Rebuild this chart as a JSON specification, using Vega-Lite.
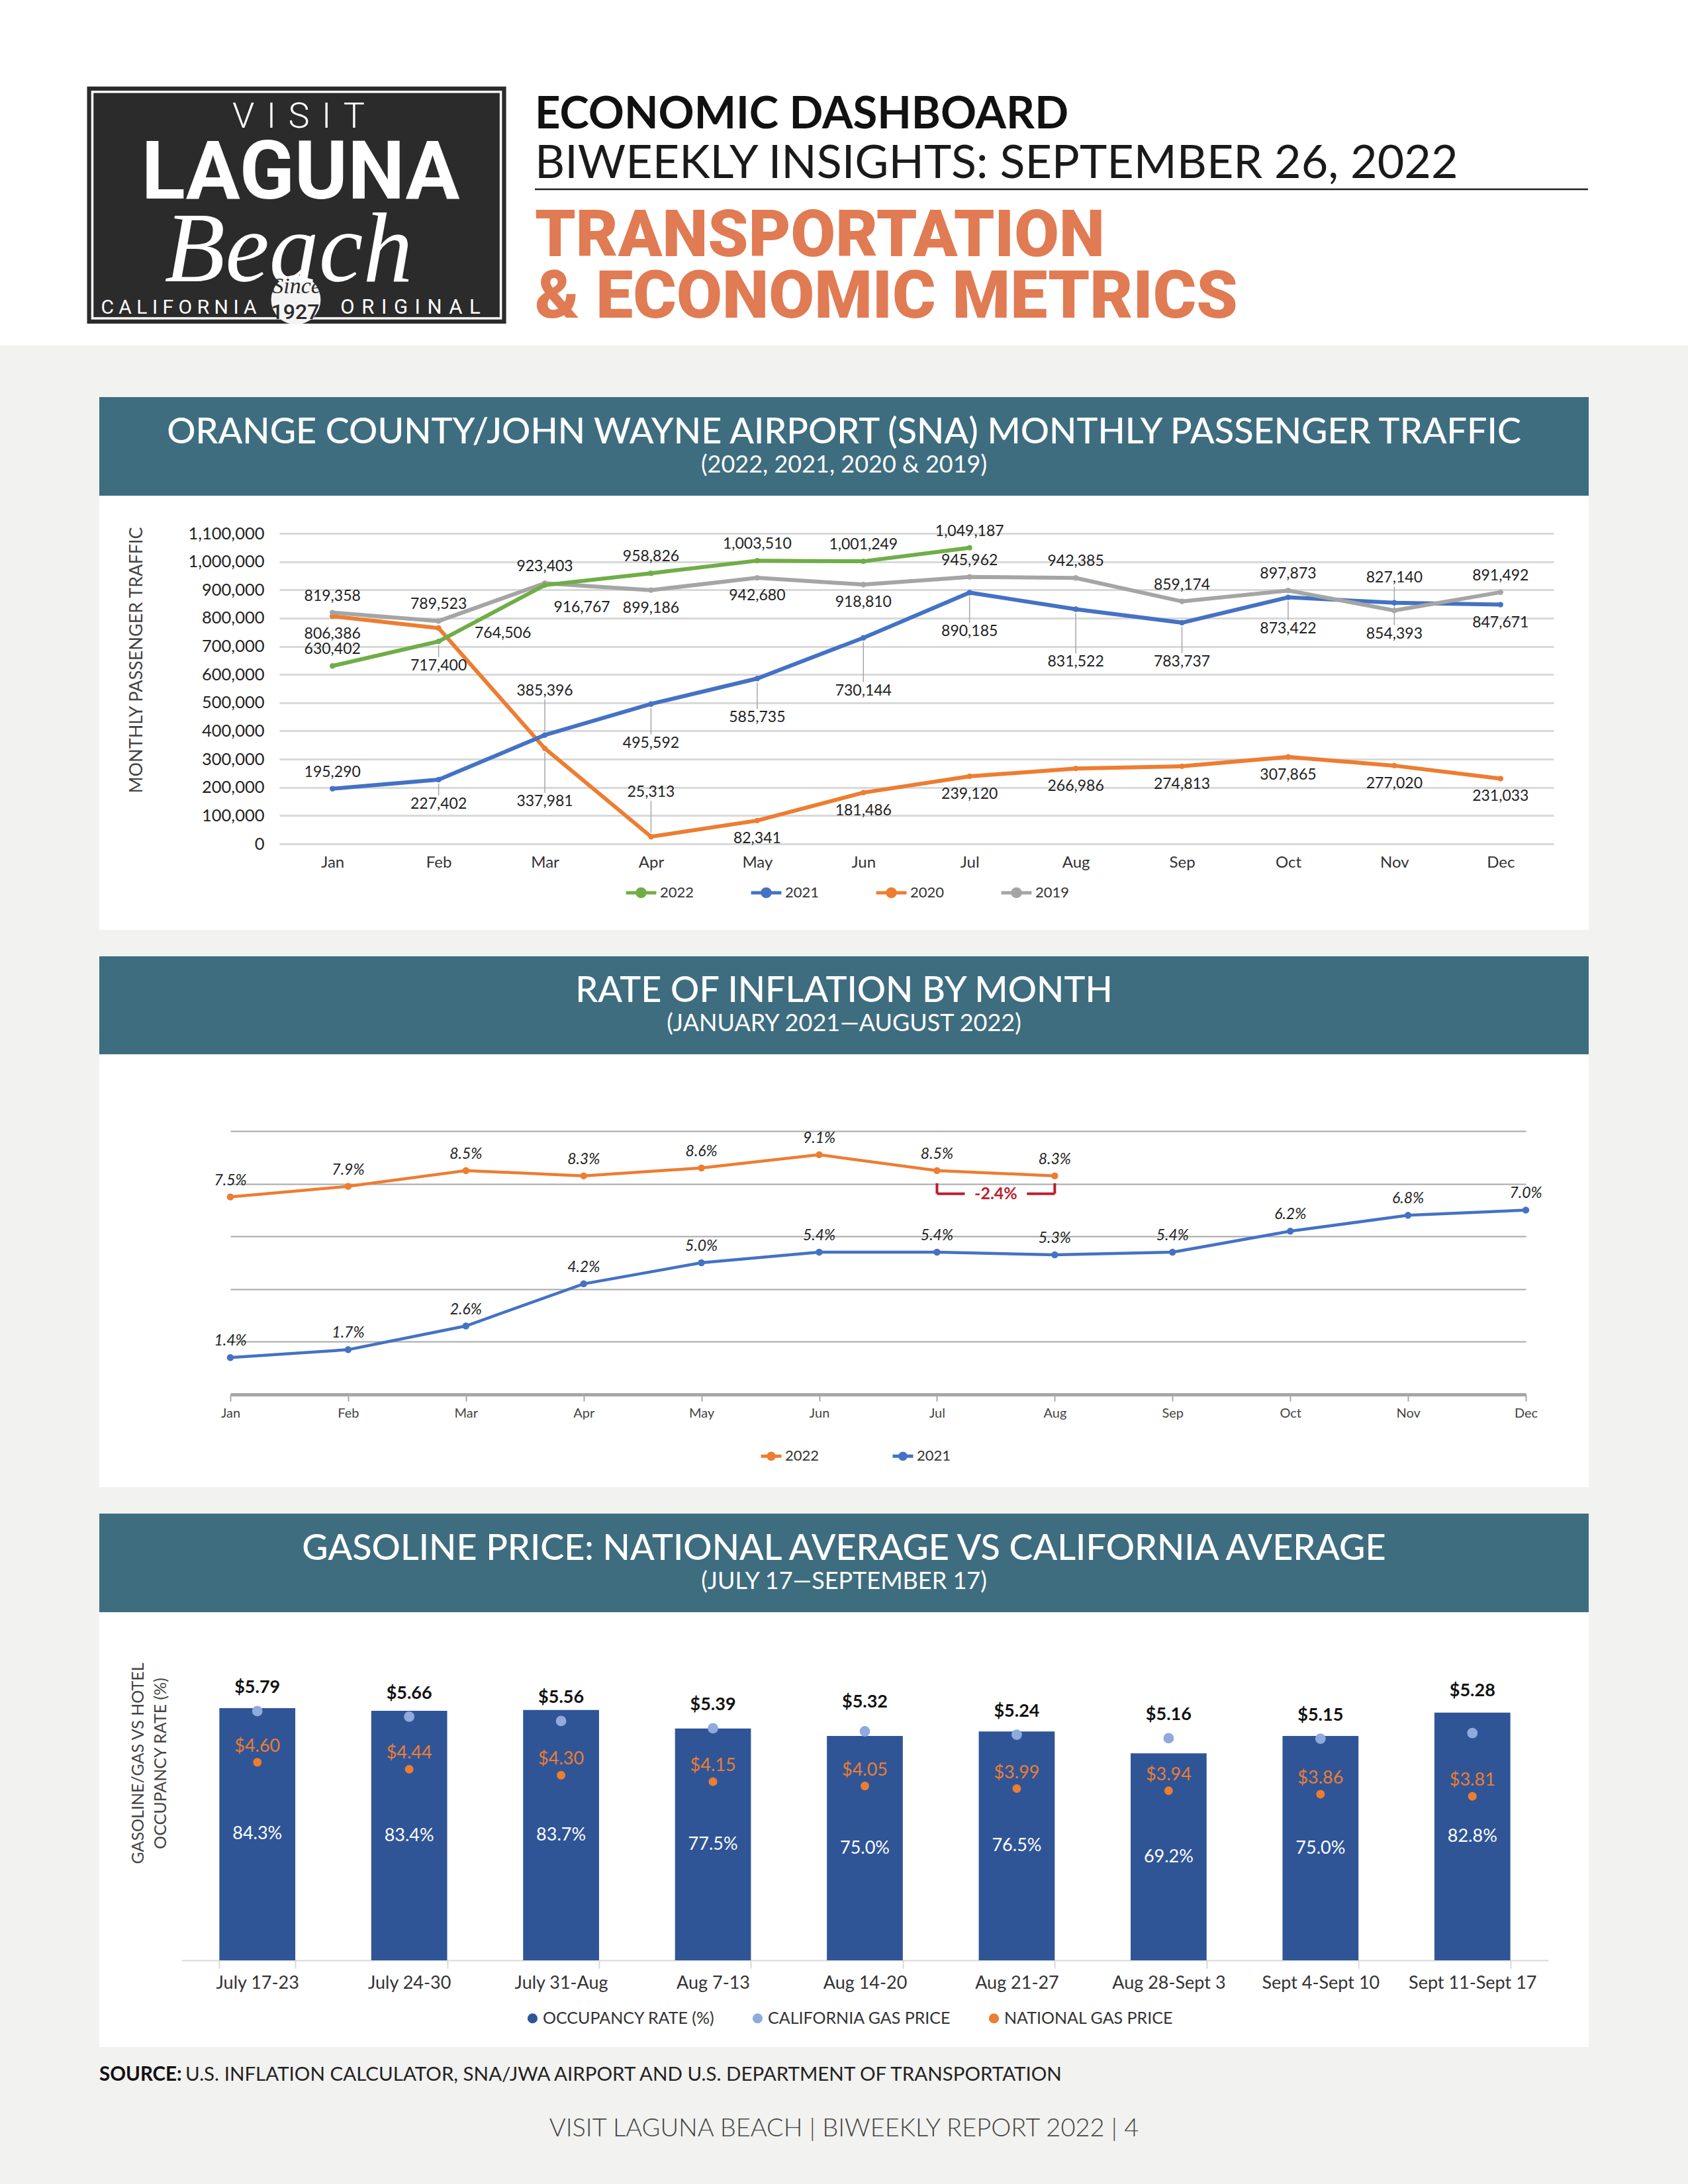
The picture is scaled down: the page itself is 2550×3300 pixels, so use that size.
{
  "$schema": "https://vega.github.io/schema/vega-lite/v6.json",
  "background": "#f2f2f0",
  "padding": 0,
  "spacing": 0,
  "center": true,
  "bounds": "flush",
  "config": {
    "view": {"stroke": null},
    "font": "Lato",
    "axis": {"labelFont": "Lato", "titleFont": "Lato"},
    "legend": {"labelFont": "Lato", "titleFont": "Lato"}
  },
  "resolve": {"scale": {"color": "independent"}, "legend": {"color": "independent"}},
  "datasets": {
    "passengers": [
      {"series": "2020", "month": "Jan", "value": 806386},
      {"series": "2020", "month": "Feb", "value": 764506},
      {"series": "2020", "month": "Mar", "value": 337981},
      {"series": "2020", "month": "Apr", "value": 25313},
      {"series": "2020", "month": "May", "value": 82341},
      {"series": "2020", "month": "Jun", "value": 181486},
      {"series": "2020", "month": "Jul", "value": 239120},
      {"series": "2020", "month": "Aug", "value": 266986},
      {"series": "2020", "month": "Sep", "value": 274813},
      {"series": "2020", "month": "Oct", "value": 307865},
      {"series": "2020", "month": "Nov", "value": 277020},
      {"series": "2020", "month": "Dec", "value": 231033},
      {"series": "2021", "month": "Jan", "value": 195290},
      {"series": "2021", "month": "Feb", "value": 227402},
      {"series": "2021", "month": "Mar", "value": 385396},
      {"series": "2021", "month": "Apr", "value": 495592},
      {"series": "2021", "month": "May", "value": 585735},
      {"series": "2021", "month": "Jun", "value": 730144},
      {"series": "2021", "month": "Jul", "value": 890185},
      {"series": "2021", "month": "Aug", "value": 831522},
      {"series": "2021", "month": "Sep", "value": 783737},
      {"series": "2021", "month": "Oct", "value": 873422},
      {"series": "2021", "month": "Nov", "value": 854393},
      {"series": "2021", "month": "Dec", "value": 847671},
      {"series": "2019", "month": "Jan", "value": 819358},
      {"series": "2019", "month": "Feb", "value": 789523},
      {"series": "2019", "month": "Mar", "value": 923403},
      {"series": "2019", "month": "Apr", "value": 899186},
      {"series": "2019", "month": "May", "value": 942680},
      {"series": "2019", "month": "Jun", "value": 918810},
      {"series": "2019", "month": "Jul", "value": 945962},
      {"series": "2019", "month": "Aug", "value": 942385},
      {"series": "2019", "month": "Sep", "value": 859174},
      {"series": "2019", "month": "Oct", "value": 897873},
      {"series": "2019", "month": "Nov", "value": 827140},
      {"series": "2019", "month": "Dec", "value": 891492},
      {"series": "2022", "month": "Jan", "value": 630402},
      {"series": "2022", "month": "Feb", "value": 717400},
      {"series": "2022", "month": "Mar", "value": 916767},
      {"series": "2022", "month": "Apr", "value": 958826},
      {"series": "2022", "month": "May", "value": 1003510},
      {"series": "2022", "month": "Jun", "value": 1001249},
      {"series": "2022", "month": "Jul", "value": 1049187}
    ],
    "inflation": [
      {"series": "2021", "month": "Jan", "rate": 0.014},
      {"series": "2021", "month": "Feb", "rate": 0.017},
      {"series": "2021", "month": "Mar", "rate": 0.026},
      {"series": "2021", "month": "Apr", "rate": 0.042},
      {"series": "2021", "month": "May", "rate": 0.050},
      {"series": "2021", "month": "Jun", "rate": 0.054},
      {"series": "2021", "month": "Jul", "rate": 0.054},
      {"series": "2021", "month": "Aug", "rate": 0.053},
      {"series": "2021", "month": "Sep", "rate": 0.054},
      {"series": "2021", "month": "Oct", "rate": 0.062},
      {"series": "2021", "month": "Nov", "rate": 0.068},
      {"series": "2021", "month": "Dec", "rate": 0.070},
      {"series": "2022", "month": "Jan", "rate": 0.075},
      {"series": "2022", "month": "Feb", "rate": 0.079},
      {"series": "2022", "month": "Mar", "rate": 0.085},
      {"series": "2022", "month": "Apr", "rate": 0.083},
      {"series": "2022", "month": "May", "rate": 0.086},
      {"series": "2022", "month": "Jun", "rate": 0.091},
      {"series": "2022", "month": "Jul", "rate": 0.085},
      {"series": "2022", "month": "Aug", "rate": 0.083}
    ],
    "inflationChange": [
      {"from": "Jul", "to": "Aug", "change": "-2.4%"}
    ],
    "gas": [
      {"week": "July 17-23", "occupancy": 0.843, "ca": 5.79, "national": 4.60},
      {"week": "July 24-30", "occupancy": 0.834, "ca": 5.66, "national": 4.44},
      {"week": "July 31-Aug", "occupancy": 0.837, "ca": 5.56, "national": 4.30},
      {"week": "Aug 7-13", "occupancy": 0.775, "ca": 5.39, "national": 4.15},
      {"week": "Aug 14-20", "occupancy": 0.750, "ca": 5.32, "national": 4.05},
      {"week": "Aug 21-27", "occupancy": 0.765, "ca": 5.24, "national": 3.99},
      {"week": "Aug 28-Sept 3", "occupancy": 0.692, "ca": 5.16, "national": 3.94},
      {"week": "Sept 4-Sept 10", "occupancy": 0.750, "ca": 5.15, "national": 3.86},
      {"week": "Sept 11-Sept 17", "occupancy": 0.828, "ca": 5.28, "national": 3.81}
    ]
  },
  "vconcat": [
    {
      "width": 2550,
      "height": 522,
      "view": {"fill": "white", "stroke": null},
      "data": {"values": [{}]},
      "layer": [
        {
          "mark": {"type": "rect", "fill": "#2b2b2b", "stroke": "#2b2b2b", "strokeWidth": 16},
          "encoding": {
            "x": {"datum": 0.05471, "type": "quantitative", "scale": {"domain": [0, 1]}, "axis": null},
            "x2": {"datum": 0.29671},
            "y": {"datum": 0.26571, "type": "quantitative", "scale": {"domain": [0, 1], "reverse": true}, "axis": null},
            "y2": {"datum": 0.92146}
          }
        },
        {
          "mark": {"type": "rect", "fill": "transparent", "stroke": "white", "strokeWidth": 3.5},
          "encoding": {
            "x": {"datum": 0.05471, "type": "quantitative", "axis": null},
            "x2": {"datum": 0.29671},
            "y": {"datum": 0.26571, "type": "quantitative", "axis": null},
            "y2": {"datum": 0.92146}
          }
        },
        {
          "mark": {"type": "point", "filled": true, "fill": "#f4f4f4", "opacity": 1, "size": 5600, "strokeWidth": 0},
          "encoding": {
            "x": {"datum": 0.17529, "type": "quantitative", "axis": null},
            "y": {"datum": 0.86782, "type": "quantitative", "axis": null}
          }
        },
        {
          "mark": {"type": "text", "font": "Roboto", "fontWeight": 300, "fontSize": 54, "color": "white", "baseline": "alphabetic"},
          "encoding": {
            "x": {"datum": 0.17686, "type": "quantitative", "axis": null},
            "y": {"datum": 0.36992, "type": "quantitative", "axis": null},
            "text": {"value": "V\u2004I\u2004S\u2004I\u2004T"}
          }
        },
        {
          "mark": {"type": "text", "font": "Roboto", "fontWeight": 700, "fontSize": 122, "color": "white", "baseline": "alphabetic"},
          "encoding": {
            "x": {"datum": 0.17804, "type": "quantitative", "axis": null},
            "y": {"datum": 0.57471, "type": "quantitative", "axis": null},
            "text": {"value": "LAGUNA"}
          }
        },
        {
          "mark": {"type": "text", "font": "Liberation Serif", "fontStyle": "italic", "fontSize": 150, "color": "white", "baseline": "alphabetic"},
          "encoding": {
            "x": {"datum": 0.17098, "type": "quantitative", "axis": null},
            "y": {"datum": 0.81418, "type": "quantitative", "axis": null},
            "text": {"value": "Beach"}
          }
        },
        {
          "mark": {"type": "text", "font": "Roboto", "fontWeight": 400, "fontSize": 30, "color": "white", "baseline": "alphabetic"},
          "encoding": {
            "x": {"datum": 0.10588, "type": "quantitative", "axis": null},
            "y": {"datum": 0.90805, "type": "quantitative", "axis": null},
            "text": {"value": "C A L I F O R N I A"}
          }
        },
        {
          "mark": {"type": "text", "font": "Roboto", "fontWeight": 400, "fontSize": 31, "color": "white", "baseline": "alphabetic"},
          "encoding": {
            "x": {"datum": 0.24314, "type": "quantitative", "axis": null},
            "y": {"datum": 0.90805, "type": "quantitative", "axis": null},
            "text": {"value": "O\u2004R\u2004I\u2004G\u2004I\u2004N\u2004A\u2004L"}
          }
        },
        {
          "mark": {"type": "text", "font": "Liberation Serif", "fontStyle": "italic", "fontSize": 34, "color": "#2b2b2b", "baseline": "middle"},
          "encoding": {
            "x": {"datum": 0.17569, "type": "quantitative", "axis": null},
            "y": {"datum": 0.8295, "type": "quantitative", "axis": null},
            "text": {"value": "Since"}
          }
        },
        {
          "mark": {"type": "text", "font": "Roboto", "fontWeight": 500, "fontSize": 32, "color": "#2b2b2b", "baseline": "alphabetic"},
          "encoding": {
            "x": {"datum": 0.17490, "type": "quantitative", "axis": null},
            "y": {"datum": 0.92337, "type": "quantitative", "axis": null},
            "text": {"value": "1927"}
          }
        },
        {
          "mark": {"type": "text", "fontWeight": 700, "fontSize": 67, "color": "#111111", "align": "left", "baseline": "alphabetic"},
          "encoding": {
            "x": {"datum": 0.31686, "type": "quantitative", "axis": null},
            "y": {"datum": 0.37165, "type": "quantitative", "axis": null},
            "text": {"value": "ECONOMIC DASHBOARD"}
          }
        },
        {
          "mark": {"type": "text", "fontWeight": 400, "fontSize": 70, "color": "#1a1a1a", "align": "left", "baseline": "alphabetic"},
          "encoding": {
            "x": {"datum": 0.31686, "type": "quantitative", "axis": null},
            "y": {"datum": 0.51533, "type": "quantitative", "axis": null},
            "text": {"value": "BIWEEKLY INSIGHTS: SEPTEMBER 26, 2022"}
          }
        },
        {
          "mark": {"type": "rule", "color": "#222222", "strokeWidth": 2.5},
          "encoding": {
            "x": {"datum": 0.31686, "type": "quantitative", "axis": null},
            "x2": {"datum": 0.94078},
            "y": {"datum": 0.54789, "type": "quantitative", "axis": null}
          }
        },
        {
          "mark": {"type": "text", "font": "Roboto", "fontWeight": 900, "fontSize": 98, "color": "#e07b53", "align": "left", "baseline": "alphabetic"},
          "encoding": {
            "x": {"datum": 0.31686, "type": "quantitative", "axis": null},
            "y": {"datum": 0.74138, "type": "quantitative", "axis": null},
            "text": {"value": "TRANSPORTATION"}
          }
        },
        {
          "mark": {"type": "text", "font": "Roboto", "fontWeight": 900, "fontSize": 100, "color": "#e07b53", "align": "left", "baseline": "alphabetic"},
          "encoding": {
            "x": {"datum": 0.31686, "type": "quantitative", "axis": null},
            "y": {"datum": 0.91954, "type": "quantitative", "axis": null},
            "text": {"value": "& ECONOMIC METRICS"}
          }
        }
      ]
    },
    {
      "width": 2250,
      "height": 78,
      "data": {"values": [{}]},
      "mark": {"type": "point", "opacity": 0},
      "encoding": {}
    },
    {
      "width": 2250,
      "height": 149,
      "view": {"fill": "#3e6d80", "stroke": null},
      "data": {"values": [{"title": "ORANGE COUNTY/JOHN WAYNE AIRPORT (SNA) MONTHLY PASSENGER TRAFFIC", "subtitle": "(2022, 2021, 2020 & 2019)"}]},
      "layer": [
        {"mark": {"type": "text", "color": "white", "fontSize": 54, "fontWeight": 500, "baseline": "middle", "dy": -21}, "encoding": {"text": {"field": "title"}}},
        {"mark": {"type": "text", "color": "white", "fontSize": 36, "fontWeight": 400, "baseline": "middle", "dy": 28}, "encoding": {"text": {"field": "subtitle"}}}
      ]
    },
    {
      "width": 2250,
      "height": 656,
      "view": {"fill": "white", "stroke": null},
      "data": {"name": "passengers"},
      "encoding": {
        "x": {
          "field": "month", "type": "ordinal",
          "sort": ["Jan","Feb","Mar","Apr","May","Jun","Jul","Aug","Sep","Oct","Nov","Dec"],
          "scale": {"type": "point", "domain": ["Jan","Feb","Mar","Apr","May","Jun","Jul","Aug","Sep","Oct","Nov","Dec"], "range": [272, 2197], "padding": 0.5},
          "axis": {"orient": "bottom", "offset": -130, "title": null, "labelAngle": 0, "labelFontSize": 24, "labelColor": "#333333", "labelPadding": 16, "domain": false, "ticks": false, "grid": false}
        },
        "y": {
          "field": "value", "type": "quantitative",
          "scale": {"domain": [0, 1100000], "range": [526, 57], "nice": false},
          "axis": {
            "orient": "left", "offset": -262,
            "values": [0, 100000, 200000, 300000, 400000, 500000, 600000, 700000, 800000, 900000, 1000000, 1100000],
            "labelExpr": "format(datum.value, ',')",
            "labelFontSize": 25.5, "labelColor": "#222222", "labelPadding": 13,
            "ticks": false, "tickSize": 0, "domain": false,
            "grid": true, "gridColor": "#d9d9d9", "gridWidth": 3,
            "title": "MONTHLY PASSENGER TRAFFIC", "titleFontSize": 27, "titleFontWeight": 400, "titleColor": "#444444",
            "titleX": -206, "titleY": 248, "titleAngle": -90, "titleBaseline": "middle", "titleAlign": "center"
          }
        }
      },
      "layer": [
        {
          "transform": [{"filter": "(datum.series=='2021' && indexof(['Apr','May','Jul','Sep'], datum.month)>=0)"}],
          "mark": {"type": "rule", "color": "#a6a6a6", "strokeWidth": 1.5, "yOffset": 6, "y2Offset": 46},
          "encoding": {"y2": {"field": "value"}}
        },
        {
          "transform": [{"filter": "(datum.series=='2021' && indexof(['Oct','Nov'], datum.month)>=0)"}],
          "mark": {"type": "rule", "color": "#a6a6a6", "strokeWidth": 1.5, "yOffset": 6, "y2Offset": 34},
          "encoding": {"y2": {"field": "value"}}
        },
        {
          "transform": [{"filter": "(datum.series=='2021' && indexof(['Jun','Aug'], datum.month)>=0) || (datum.series=='2020' && datum.month=='Mar')"}],
          "mark": {"type": "rule", "color": "#a6a6a6", "strokeWidth": 1.5, "yOffset": 6, "y2Offset": 67},
          "encoding": {"y2": {"field": "value"}}
        },
        {
          "transform": [{"filter": "(datum.series=='2021' || datum.series=='2022') && datum.month=='Feb'"}],
          "mark": {"type": "rule", "color": "#a6a6a6", "strokeWidth": 1.5, "yOffset": 6, "y2Offset": 24},
          "encoding": {"y2": {"field": "value"}}
        },
        {
          "transform": [{"filter": "datum.series=='2019' && datum.month=='Nov'"}],
          "mark": {"type": "rule", "color": "#a6a6a6", "strokeWidth": 1.5, "yOffset": -6, "y2Offset": -36},
          "encoding": {"y2": {"field": "value"}}
        },
        {
          "transform": [{"filter": "(datum.series=='2021' && datum.month=='Mar') || (datum.series=='2020' && datum.month=='Apr')"}],
          "mark": {"type": "rule", "color": "#a6a6a6", "strokeWidth": 1.5, "yOffset": -6, "y2Offset": -54},
          "encoding": {"y2": {"field": "value"}}
        },
        {
          "mark": {"type": "line", "strokeWidth": 6},
          "encoding": {
            "color": {
              "field": "series", "type": "nominal",
              "scale": {"domain": ["2022", "2021", "2020", "2019"], "range": ["#70ad47", "#4472c4", "#ed7d31", "#a5a5a5"]},
              "legend": {
                "orient": "none", "legendX": 793, "legendY": 574, "direction": "horizontal", "title": null,
                "labelFontSize": 22, "labelColor": "#333333", "labelOffset": 3,
                "symbolType": "M-1,0L1,0M-0.25,0A0.25,0.25,0,1,1,0.25,0A0.25,0.25,0,1,1,-0.25,0Z",
                "symbolSize": 2100, "symbolStrokeWidth": 5, "columnPadding": 75
              }
            }
          }
        },
        {
          "mark": {"type": "point", "filled": true, "size": 70, "opacity": 1},
          "encoding": {"color": {"field": "series", "type": "nominal"}}
        },
        {
          "transform": [{"filter": "(datum.series=='2019' && indexof(['Jan','Feb','Mar','Jul','Aug','Sep','Oct','Dec'], datum.month)>=0) || (datum.series=='2022' && indexof(['Jan','Apr','May','Jun','Jul'], datum.month)>=0) || (datum.series=='2021' && datum.month=='Jan')"}],
          "mark": {"type": "text", "dy": -25, "fontSize": 23, "color": "#222222", "baseline": "middle"},
          "encoding": {"text": {"field": "value", "type": "quantitative", "format": ","}}
        },
        {
          "transform": [{"filter": "(datum.series=='2019' && indexof(['Apr','May','Jun'], datum.month)>=0) || (datum.series=='2021' && datum.month=='Dec') || (datum.series=='2020' && indexof(['Jan','May','Jun','Jul','Aug','Sep','Oct','Nov','Dec'], datum.month)>=0)"}],
          "mark": {"type": "text", "dy": 27, "fontSize": 23, "color": "#222222", "baseline": "middle"},
          "encoding": {"text": {"field": "value", "type": "quantitative", "format": ","}}
        },
        {
          "transform": [{"filter": "(datum.series=='2021' || datum.series=='2022') && datum.month=='Feb'"}],
          "mark": {"type": "text", "dy": 37, "fontSize": 23, "color": "#222222", "baseline": "middle"},
          "encoding": {"text": {"field": "value", "type": "quantitative", "format": ","}}
        },
        {
          "transform": [{"filter": "datum.series=='2022' && datum.month=='Mar'"}],
          "mark": {"type": "text", "dy": 34, "dx": 56, "fontSize": 23, "color": "#222222", "baseline": "middle"},
          "encoding": {"text": {"field": "value", "type": "quantitative", "format": ","}}
        },
        {
          "transform": [{"filter": "datum.series=='2021' && indexof(['Apr','May','Jul','Sep'], datum.month)>=0"}],
          "mark": {"type": "text", "dy": 59, "fontSize": 23, "color": "#222222", "baseline": "middle"},
          "encoding": {"text": {"field": "value", "type": "quantitative", "format": ","}}
        },
        {
          "transform": [{"filter": "datum.series=='2021' && indexof(['Oct','Nov'], datum.month)>=0"}],
          "mark": {"type": "text", "dy": 47, "fontSize": 23, "color": "#222222", "baseline": "middle"},
          "encoding": {"text": {"field": "value", "type": "quantitative", "format": ","}}
        },
        {
          "transform": [{"filter": "(datum.series=='2021' && indexof(['Jun','Aug'], datum.month)>=0) || (datum.series=='2020' && datum.month=='Mar')"}],
          "mark": {"type": "text", "dy": 80, "fontSize": 23, "color": "#222222", "baseline": "middle"},
          "encoding": {"text": {"field": "value", "type": "quantitative", "format": ","}}
        },
        {
          "transform": [{"filter": "datum.series=='2019' && datum.month=='Nov'"}],
          "mark": {"type": "text", "dy": -49, "fontSize": 23, "color": "#222222", "baseline": "middle"},
          "encoding": {"text": {"field": "value", "type": "quantitative", "format": ","}}
        },
        {
          "transform": [{"filter": "(datum.series=='2021' && datum.month=='Mar') || (datum.series=='2020' && datum.month=='Apr')"}],
          "mark": {"type": "text", "dy": -67, "fontSize": 23, "color": "#222222", "baseline": "middle"},
          "encoding": {"text": {"field": "value", "type": "quantitative", "format": ","}}
        },
        {
          "transform": [{"filter": "datum.series=='2020' && datum.month=='Feb'"}],
          "mark": {"type": "text", "dy": 8, "dx": 97, "fontSize": 23, "color": "#222222", "baseline": "middle"},
          "encoding": {"text": {"field": "value", "type": "quantitative", "format": ","}}
        }
      ]
    },
    {
      "width": 2250,
      "height": 40,
      "data": {"values": [{}]},
      "mark": {"type": "point", "opacity": 0},
      "encoding": {}
    },
    {
      "width": 2250,
      "height": 148,
      "view": {"fill": "#3e6d80", "stroke": null},
      "data": {"values": [{"title": "RATE OF INFLATION BY MONTH", "subtitle": "(JANUARY 2021\u2014AUGUST 2022)"}]},
      "layer": [
        {"mark": {"type": "text", "color": "white", "fontSize": 54, "fontWeight": 500, "baseline": "middle", "dy": -21}, "encoding": {"text": {"field": "title"}}},
        {"mark": {"type": "text", "color": "white", "fontSize": 36, "fontWeight": 400, "baseline": "middle", "dy": 28}, "encoding": {"text": {"field": "subtitle"}}}
      ]
    },
    {
      "width": 2250,
      "height": 654,
      "view": {"fill": "white", "stroke": null},
      "layer": [
        {
          "data": {"name": "inflation"},
          "mark": {"type": "line", "strokeWidth": 4.5},
          "encoding": {
            "x": {
              "field": "month", "type": "ordinal",
              "sort": ["Jan","Feb","Mar","Apr","May","Jun","Jul","Aug","Sep","Oct","Nov","Dec"],
              "scale": {"type": "point", "domain": ["Jan","Feb","Mar","Apr","May","Jun","Jul","Aug","Sep","Oct","Nov","Dec"], "range": [198, 2155], "padding": 0},
              "axis": {"orient": "bottom", "offset": -140, "title": null, "labelAngle": 0, "labelFontSize": 20, "labelColor": "#444444", "labelPadding": 8, "domain": true, "domainColor": "#a6a6a6", "domainWidth": 5, "ticks": true, "tickColor": "#a6a6a6", "tickWidth": 2, "tickSize": 10, "grid": false}
            },
            "y": {
              "field": "rate", "type": "quantitative",
              "scale": {"domain": [0, 0.1], "range": [514, 116], "nice": false},
              "axis": {
                "orient": "left", "values": [0.02, 0.04, 0.06, 0.08, 0.1],
                "labels": false, "ticks": false, "domain": false,
                "grid": true, "gridColor": "#a8a8a8", "gridWidth": 1.8,
                "title": "PERCENTAGE RATE (%)", "titleFontSize": 25, "titleFontWeight": 400, "titleColor": "#444444",
                "titleX": 56, "titleY": 183, "titleAngle": -90, "titleBaseline": "middle", "titleAlign": "center"
              }
            },
            "color": {
              "field": "series", "type": "nominal",
              "scale": {"domain": ["2022", "2021"], "range": ["#ed7d31", "#4472c4"]},
              "legend": {
                "orient": "none", "legendX": 997, "legendY": 589, "direction": "horizontal", "title": null,
                "labelFontSize": 22, "labelColor": "#333333", "labelOffset": 3,
                "symbolType": "M-1,0L1,0M-0.28,0A0.28,0.28,0,1,1,0.28,0A0.28,0.28,0,1,1,-0.28,0Z",
                "symbolSize": 960, "symbolStrokeWidth": 5, "columnPadding": 100
              }
            }
          }
        },
        {
          "data": {"name": "inflation"},
          "mark": {"type": "point", "filled": true, "size": 110, "opacity": 1},
          "encoding": {
            "x": {"field": "month", "type": "ordinal", "title": null},
            "y": {"field": "rate", "type": "quantitative", "title": null},
            "color": {"field": "series", "type": "nominal"}
          }
        },
        {
          "data": {"name": "inflation"},
          "mark": {"type": "text", "dy": -25, "fontSize": 23, "fontStyle": "italic", "color": "#222222", "baseline": "middle"},
          "encoding": {
            "x": {"field": "month", "type": "ordinal", "title": null},
            "y": {"field": "rate", "type": "quantitative", "title": null},
            "text": {"field": "rate", "type": "quantitative", "format": ".1%"}
          }
        },
        {
          "data": {"name": "inflationChange"},
          "mark": {"type": "rule", "color": "#be1e2d", "strokeWidth": 4, "x2Offset": 42},
          "encoding": {
            "x": {"field": "from", "type": "ordinal", "title": null},
            "x2": {"field": "from"},
            "y": {"datum": 0.0762, "type": "quantitative"}
          }
        },
        {
          "data": {"name": "inflationChange"},
          "mark": {"type": "rule", "color": "#be1e2d", "strokeWidth": 4, "xOffset": -42},
          "encoding": {
            "x": {"field": "to", "type": "ordinal", "title": null},
            "x2": {"field": "to"},
            "y": {"datum": 0.0762, "type": "quantitative"}
          }
        },
        {
          "data": {"name": "inflationChange"},
          "mark": {"type": "rule", "color": "#be1e2d", "strokeWidth": 4},
          "encoding": {
            "x": {"field": "from", "type": "ordinal", "title": null},
            "y": {"datum": 0.0762, "type": "quantitative"},
            "y2": {"datum": 0.0802}
          }
        },
        {
          "data": {"name": "inflationChange"},
          "mark": {"type": "rule", "color": "#be1e2d", "strokeWidth": 4},
          "encoding": {
            "x": {"field": "to", "type": "ordinal", "title": null},
            "y": {"datum": 0.0762, "type": "quantitative"},
            "y2": {"datum": 0.0802}
          }
        },
        {
          "data": {"name": "inflationChange"},
          "mark": {"type": "text", "color": "#be1e2d", "fontSize": 25, "fontWeight": 700, "baseline": "middle", "dx": 89},
          "encoding": {
            "x": {"field": "from", "type": "ordinal", "title": null},
            "y": {"datum": 0.0762, "type": "quantitative"},
            "text": {"field": "change"}
          }
        }
      ]
    },
    {
      "width": 2250,
      "height": 40,
      "data": {"values": [{}]},
      "mark": {"type": "point", "opacity": 0},
      "encoding": {}
    },
    {
      "width": 2250,
      "height": 149,
      "view": {"fill": "#3e6d80", "stroke": null},
      "data": {"values": [{"title": "GASOLINE PRICE: NATIONAL AVERAGE VS CALIFORNIA AVERAGE", "subtitle": "(JULY 17\u2014SEPTEMBER 17)"}]},
      "layer": [
        {"mark": {"type": "text", "color": "white", "fontSize": 54, "fontWeight": 500, "baseline": "middle", "dy": -21}, "encoding": {"text": {"field": "title"}}},
        {"mark": {"type": "text", "color": "white", "fontSize": 36, "fontWeight": 400, "baseline": "middle", "dy": 28}, "encoding": {"text": {"field": "subtitle"}}}
      ]
    },
    {
      "width": 2250,
      "height": 657,
      "view": {"fill": "white", "stroke": null},
      "data": {"name": "gas"},
      "resolve": {"scale": {"y": "independent"}},
      "encoding": {
        "x": {
          "field": "week", "type": "nominal",
          "sort": ["July 17-23", "July 24-30", "July 31-Aug", "Aug 7-13", "Aug 14-20", "Aug 21-27", "Aug 28-Sept 3", "Sept 4-Sept 10", "Sept 11-Sept 17"],
          "scale": {"type": "band", "domain": ["July 17-23", "July 24-30", "July 31-Aug", "Aug 7-13", "Aug 14-20", "Aug 21-27", "Aug 28-Sept 3", "Sept 4-Sept 10", "Sept 11-Sept 17"], "range": [124, 2189], "paddingInner": 0.5, "paddingOuter": 0.25},
          "axis": {"orient": "bottom", "offset": -131, "title": null, "labelAngle": 0, "labelFontSize": 27, "labelColor": "#333333", "labelPadding": 9, "labelLimit": 400, "domain": true, "domainColor": "#d9d9d9", "domainWidth": 2, "ticks": true, "tickBand": "extent", "tickColor": "#d9d9d9", "tickWidth": 2, "tickSize": 12, "grid": false}
        }
      },
      "layer": [
        {
          "mark": {"type": "bar"},
          "encoding": {
            "y": {
              "field": "occupancy", "type": "quantitative",
              "scale": {"domain": [0, 1], "range": [526, 74], "nice": false},
              "axis": {
                "orient": "left", "labels": false, "ticks": false, "domain": false, "grid": false,
                "title": ["GASOLINE/GAS VS HOTEL", "OCCUPANCY RATE (%)"], "titleFontSize": 25, "titleFontWeight": 400, "titleColor": "#444444",
                "titleX": 58, "titleY": 228, "titleAngle": -90, "titleBaseline": "middle", "titleAlign": "center", "titleLineHeight": 34
              }
            },
            "color": {
              "datum": "OCCUPANCY RATE (%)",
              "scale": {"domain": ["OCCUPANCY RATE (%)", "CALIFORNIA GAS PRICE", "NATIONAL GAS PRICE"], "range": ["#2f5597", "#8faadc", "#ed7d31"]},
              "legend": {
                "orient": "none", "legendX": 642, "legendY": 601, "direction": "horizontal", "title": null,
                "labelFontSize": 25, "labelColor": "#333333", "labelOffset": 3, "labelLimit": 500,
                "symbolSize": 230, "columnPadding": 52
              }
            }
          }
        },
        {
          "mark": {"type": "text", "color": "white", "fontSize": 27, "baseline": "middle"},
          "encoding": {
            "y": {"field": "occupancy", "type": "quantitative", "scale": {"domain": [0, 2], "range": [526, 74], "nice": false}, "axis": null},
            "text": {"field": "occupancy", "type": "quantitative", "format": ".1%"}
          }
        },
        {
          "mark": {"type": "point", "filled": true, "size": 250, "opacity": 1},
          "encoding": {
            "y": {"field": "ca", "type": "quantitative", "scale": {"domain": [0, 6.95], "range": [526, 74], "nice": false}, "axis": null},
            "color": {"datum": "CALIFORNIA GAS PRICE"}
          }
        },
        {
          "transform": [{"filter": "datum.week != 'Sept 11-Sept 17' && datum.week != 'Aug 14-20'"}],
          "mark": {"type": "text", "color": "#111111", "fontSize": 27, "fontWeight": 700, "baseline": "middle", "dy": -35},
          "encoding": {
            "y": {"field": "ca", "type": "quantitative", "scale": {"domain": [0, 6.95], "range": [526, 74], "nice": false}, "axis": null},
            "text": {"field": "ca", "type": "quantitative", "format": "$.2f"}
          }
        },
        {
          "transform": [{"filter": "datum.week == 'Aug 14-20'"}],
          "mark": {"type": "text", "color": "#111111", "fontSize": 27, "fontWeight": 700, "baseline": "middle", "dy": -44},
          "encoding": {
            "y": {"field": "ca", "type": "quantitative", "scale": {"domain": [0, 6.95], "range": [526, 74], "nice": false}, "axis": null},
            "text": {"field": "ca", "type": "quantitative", "format": "$.2f"}
          }
        },
        {
          "transform": [{"filter": "datum.week == 'Sept 11-Sept 17'"}],
          "mark": {"type": "text", "color": "#111111", "fontSize": 27, "fontWeight": 700, "baseline": "middle", "dy": -64},
          "encoding": {
            "y": {"field": "ca", "type": "quantitative", "scale": {"domain": [0, 6.95], "range": [526, 74], "nice": false}, "axis": null},
            "text": {"field": "ca", "type": "quantitative", "format": "$.2f"}
          }
        },
        {
          "mark": {"type": "point", "filled": true, "size": 170, "opacity": 1},
          "encoding": {
            "y": {"field": "national", "type": "quantitative", "scale": {"domain": [0, 6.95], "range": [526, 74], "nice": false}, "axis": null},
            "color": {"datum": "NATIONAL GAS PRICE"}
          }
        },
        {
          "mark": {"type": "text", "color": "#ed7d31", "fontSize": 27, "baseline": "middle", "dy": -24},
          "encoding": {
            "y": {"field": "national", "type": "quantitative", "scale": {"domain": [0, 6.95], "range": [526, 74], "nice": false}, "axis": null},
            "text": {"field": "national", "type": "quantitative", "format": "$.2f"}
          }
        }
      ]
    },
    {
      "width": 2250,
      "height": 207,
      "data": {"values": [{}]},
      "layer": [
        {
          "mark": {"type": "text", "align": "left", "baseline": "middle", "fontSize": 29.5, "fontWeight": 700, "color": "#111111"},
          "encoding": {
            "x": {"datum": 0, "type": "quantitative", "scale": {"domain": [0, 1]}, "axis": null},
            "y": {"datum": 0.2029, "type": "quantitative", "scale": {"domain": [0, 1], "reverse": true}, "axis": null},
            "text": {"value": "SOURCE:"}
          }
        },
        {
          "mark": {"type": "text", "align": "left", "baseline": "middle", "fontSize": 29.5, "fontWeight": 400, "color": "#222222"},
          "encoding": {
            "x": {"datum": 0.0578, "type": "quantitative", "axis": null},
            "y": {"datum": 0.2029, "type": "quantitative", "axis": null},
            "text": {"value": "U.S. INFLATION CALCULATOR, SNA/JWA AIRPORT AND U.S. DEPARTMENT OF TRANSPORTATION"}
          }
        },
        {
          "mark": {"type": "text", "align": "center", "baseline": "middle", "fontSize": 38, "fontWeight": 300, "color": "#444444"},
          "encoding": {
            "x": {"datum": 0.5, "type": "quantitative", "axis": null},
            "y": {"datum": 0.599, "type": "quantitative", "axis": null},
            "text": {"value": "VISIT LAGUNA BEACH  |  BIWEEKLY REPORT 2022  |  4"}
          }
        }
      ]
    }
  ]
}
